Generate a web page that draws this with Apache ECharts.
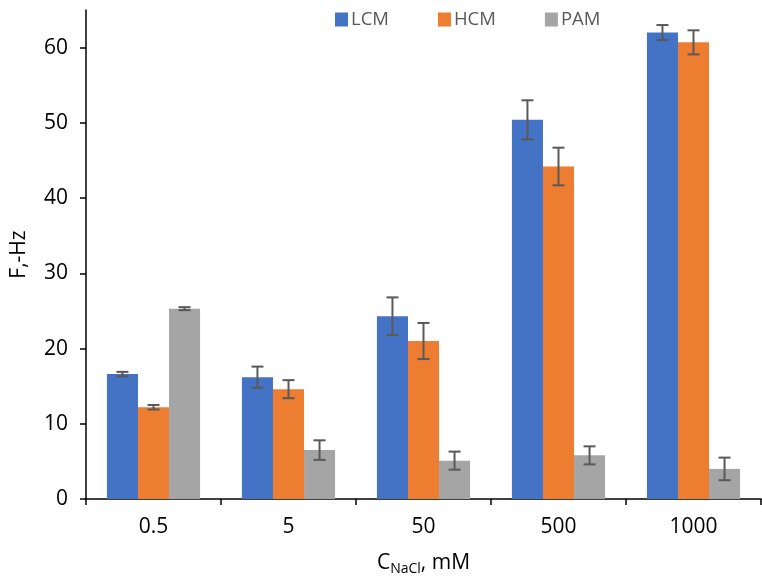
<!DOCTYPE html>
<html>
<head>
<meta charset="utf-8">
<script src="https://cdn.jsdelivr.net/npm/echarts@6/dist/echarts.min.js"></script>
<style>
  html, body { margin: 0; padding: 0; background: #fff; }
  #chart { width: 762px; height: 577px; }
</style>
</head>
<body>
<div id="chart"></div>
<script>
// concentrations of NaCl, mM
var categories = ['0.5', '5', '50', '500', '1000'];

var lcm = [16.6, 16.2, 24.3, 50.4, 62.0];
var hcm = [12.2, 14.6, 21.0, 44.2, 60.7];
var pam = [25.3, 6.5, 5.1, 5.8, 4.0];

var lcmErr = [0.3, 1.4, 2.5, 2.6, 1.0];
var hcmErr = [0.3, 1.2, 2.4, 2.5, 1.6];
var pamErr = [0.2, 1.3, 1.2, 1.2, 1.5];

var yTicks = [0, 10, 20, 30, 40, 50, 60];

var colors = ['#4472C4', '#ED7D31', '#A5A5A5'];
var catGap = 0.31;

var chart = echarts.init(document.getElementById('chart'), null, { renderer: 'canvas' });

function errSeries(values, errs, slot) {
    var data = values.map(function (v, i) { return [i, v, errs[i]]; });
    return {
        type: 'custom',
        silent: true,
        z: 10,
        data: data,
        renderItem: function (params, api) {
            var i = api.value(0);
            var v = api.value(1);
            var e = api.value(2);
            var catW = api.size([1, 0])[0];
            var bw = catW * (1 - catGap) / 3;
            var hi = api.coord([i, v + e]);
            var lo = api.coord([i, v - e]);
            var x = hi[0] + slot * bw;
            var cap = 6;
            var st = { stroke: '#595959', lineWidth: 2 };
            return {
                type: 'group',
                children: [
                    { type: 'line', shape: { x1: x, y1: hi[1], x2: x, y2: lo[1] }, style: st },
                    { type: 'line', shape: { x1: x - cap, y1: hi[1], x2: x + cap, y2: hi[1] }, style: st },
                    { type: 'line', shape: { x1: x - cap, y1: lo[1], x2: x + cap, y2: lo[1] }, style: st }
                ]
            };
        }
    };
}

function barSeries(name, values, color) {
    return {
        name: name,
        type: 'bar',
        data: values,
        barGap: '0%',
        barCategoryGap: (catGap * 100) + '%',
        itemStyle: { color: color }
    };
}

chart.setOption({
    animation: false,
    textStyle: { fontFamily: 'Open Sans' },
    legend: {
        top: 5,
        left: 330,
        itemWidth: 13,
        itemHeight: 14,
        itemGap: 49,
        icon: 'rect',
        textStyle: { fontSize: 18.5, color: '#595959', fontFamily: 'Open Sans', padding: [0, 0, 0, -2] },
        data: ['LCM', 'HCM', 'PAM']
    },
    grid: { left: 86, right: 1, top: 10, bottom: 78, outerBoundsMode: 'none', containLabel: false },
    xAxis: {
        type: 'category',
        data: categories,
        name: 'C{sub|NaCl}, mM',
        nameLocation: 'middle',
        nameGap: 52,
        nameTextStyle: {
            fontSize: 21,
            color: '#000',
            rich: {
                sub: { fontSize: 14, padding: [11, 0, 0, 0], color: '#000' }
            }
        },
        axisLine: { lineStyle: { color: '#000', width: 1.5 } },
        axisTick: { show: true, length: 6, lineStyle: { color: '#000', width: 1.5 } },
        axisLabel: { fontSize: 21, color: '#000', margin: 18 },
        splitLine: { show: false }
    },
    yAxis: {
        type: 'value',
        min: 0,
        max: 65,
        interval: 10,
        name: 'F,-Hz',
        nameLocation: 'middle',
        nameGap: 56,
        nameTextStyle: { fontSize: 21, color: '#000' },
        axisLine: { show: true, lineStyle: { color: '#000', width: 1.5 } },
        axisTick: { show: true, length: 6, customValues: yTicks, lineStyle: { color: '#000', width: 1.5 } },
        axisLabel: { fontSize: 21, color: '#000', margin: 18, customValues: yTicks },
        splitLine: { show: false }
    },
    series: [
        barSeries('LCM', lcm, colors[0]),
        barSeries('HCM', hcm, colors[1]),
        barSeries('PAM', pam, colors[2]),
        errSeries(lcm, lcmErr, -1),
        errSeries(hcm, hcmErr, 0),
        errSeries(pam, pamErr, 1)
    ]
});
</script>
</body>
</html>
